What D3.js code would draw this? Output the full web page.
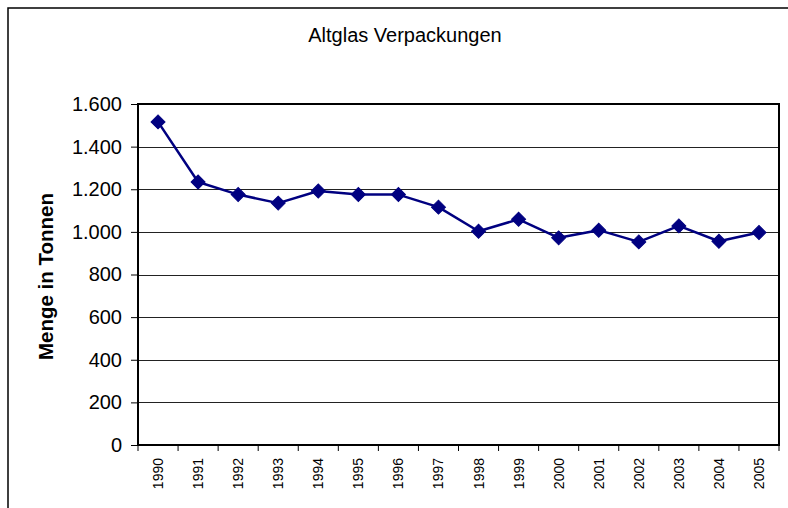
<!DOCTYPE html>
<html>
<head>
<meta charset="utf-8">
<script src="https://cdn.jsdelivr.net/npm/d3@7"></script>
<style>
  html, body { margin: 0; padding: 0; background: #fff; }
  svg { display: block; }
  text { font-family: "Liberation Sans", Arial, sans-serif; fill: #000; }
</style>
</head>
<body>
<svg id="chart" width="788" height="508"></svg>
<script>
const title = "Altglas Verpackungen";
const yAxisTitle = "Menge in Tonnen";
const years = ["1990","1991","1992","1993","1994","1995","1996","1997","1998","1999","2000","2001","2002","2003","2004","2005"];
const values = [1516, 1234, 1175, 1135, 1192, 1175, 1175, 1116, 1003, 1059, 972, 1008, 953, 1028, 956, 997];
const yTicks = [0, 200, 400, 600, 800, 1000, 1200, 1400, 1600];

const svg = d3.select("#chart");
const W = 788, H = 508;
const m = { left: 138, right: 9, top: 104, bottom: 63 };
const pw = W - m.left - m.right, ph = H - m.top - m.bottom;

const de = d3.formatLocale({ decimal: ",", thousands: ".", grouping: [3], currency: ["", " €"] });
const fmt = de.format(",d");

// outer frame
svg.append("rect").attr("x", 8).attr("y", 8).attr("width", W + 10).attr("height", H + 10)
  .attr("fill", "#fff").attr("stroke", "#000").attr("stroke-width", 1.5);

const x = d3.scaleBand().domain(years).range([m.left, m.left + pw]).paddingInner(0).paddingOuter(0);
const y = d3.scaleLinear().domain([0, 1600]).range([m.top + ph, m.top]);

// gridlines
svg.append("g").selectAll("line").data(yTicks.filter(d => d > 0 && d < 1600)).join("line")
  .attr("x1", m.left).attr("x2", m.left + pw)
  .attr("y1", d => Math.round(y(d)) + 0.5).attr("y2", d => Math.round(y(d)) + 0.5)
  .attr("stroke", "#222").attr("stroke-width", 1);

// plot border
svg.append("rect").attr("x", m.left).attr("y", m.top).attr("width", pw).attr("height", ph)
  .attr("fill", "none").attr("stroke", "#000").attr("stroke-width", 2);

// y axis
const yAxis = svg.append("g").attr("transform", `translate(${m.left},0)`)
  .call(d3.axisLeft(y).tickValues(yTicks).tickFormat(fmt).tickSize(7).tickPadding(9));
yAxis.select(".domain").remove();
yAxis.selectAll(".tick line").attr("stroke", "#000");
yAxis.selectAll(".tick text").style("font-size", "20px").style("font-family", "'Liberation Sans', Arial, sans-serif").attr("fill", "#000");

// x axis: ticks at category boundaries
const boundaries = years.map(d => x(d)).concat([m.left + pw]);
svg.append("g").selectAll("line").data(boundaries).join("line")
  .attr("x1", d => d).attr("x2", d => d)
  .attr("y1", m.top + ph).attr("y2", m.top + ph + 6)
  .attr("stroke", "#000").attr("stroke-width", 1);
svg.append("g").selectAll("text").data(years).join("text")
  .attr("transform", d => `translate(${x(d) + x.bandwidth() / 2 + 5},${m.top + ph + 13}) rotate(-90)`)
  .attr("text-anchor", "end")
  .style("font-size", "14px")
  .text(d => d);

// title
svg.append("text").attr("x", 405).attr("y", 42).attr("text-anchor", "middle")
  .style("font-size", "20px").text(title);

// y axis title
svg.append("text")
  .attr("transform", `translate(53,${m.top + ph / 2 + 2}) rotate(-90)`)
  .attr("text-anchor", "middle").style("font-size", "20.5px").style("font-weight", "bold")
  .text(yAxisTitle);

// line
const line = d3.line().x((d, i) => x(years[i]) + x.bandwidth() / 2).y(d => y(d));
svg.append("path").datum(values).attr("d", line)
  .attr("fill", "none").attr("stroke", "#000080").attr("stroke-width", 2.5).attr("stroke-linejoin", "round");

// markers
const sym = d3.symbol().type(d3.symbolSquare).size(98);
svg.append("g").selectAll("path").data(values).join("path")
  .attr("d", sym)
  .attr("transform", (d, i) => `translate(${x(years[i]) + x.bandwidth() / 2},${y(d)}) rotate(45)`)
  .attr("fill", "#000080").attr("stroke", "#000080").attr("stroke-width", 1);
</script>
</body>
</html>
